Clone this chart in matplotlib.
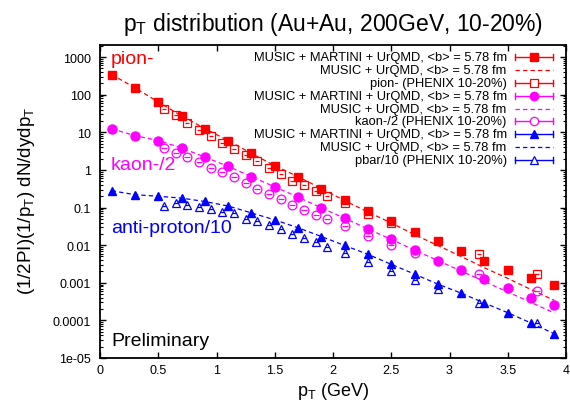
import matplotlib
matplotlib.use('Agg')
import matplotlib.pyplot as plt
from matplotlib.ticker import FixedLocator, FixedFormatter, LogLocator, NullFormatter

plt.rcParams['font.family'] = ['Liberation Sans', 'DejaVu Sans']
plt.rcParams['mathtext.fontset'] = 'custom'
plt.rcParams['mathtext.rm'] = 'Liberation Sans'
plt.rcParams['mathtext.it'] = 'Liberation Sans:italic'
plt.rcParams['mathtext.bf'] = 'Liberation Sans:bold'

# ---------------- data ----------------
pt_model = [0.1, 0.3, 0.5, 0.7, 0.9, 1.1, 1.3, 1.5, 1.7, 1.9,
            2.1, 2.3, 2.5, 2.7, 2.9, 3.1, 3.3, 3.5, 3.7, 3.9]

pion_martini = [344, 153, 64, 27.5, 12.6, 6.05, 2.75, 1.30, 0.66, 0.32,
                0.158, 0.0817, 0.0443, 0.0222, 0.0128, 0.0071, 0.0039, 0.00224, 0.00135, 0.00088]
pion_music = [344, 153, 64, 27.5, 12.6, 6.05, 2.75, 1.30, 0.66, 0.32,
              0.153, 0.076, 0.039, 0.019, 0.0098, 0.0050, 0.0025, 0.00131, 0.00066, 0.00034]

kaon_martini = [12.4, 8.2, 6.05, 3.85, 2.2, 1.25, 0.66, 0.355, 0.19, 0.098,
                0.052, 0.027, 0.0144, 0.0075, 0.0038, 0.00224, 0.00126, 0.00072, 0.00039, 0.00026]
kaon_music = [12.4, 8.2, 6.05, 3.85, 2.2, 1.25, 0.66, 0.355, 0.19, 0.098,
              0.052, 0.027, 0.0142, 0.0074, 0.0039, 0.00205, 0.00108, 0.00057, 0.00030, 0.000157]

pbar_martini = [0.28, 0.22, 0.20, 0.178, 0.145, 0.11, 0.072, 0.047, 0.029, 0.017,
                0.0098, 0.0057, 0.0031, 0.0017, 0.00092, 0.00053, 0.00029, 0.00016, 8.5e-5, 4.4e-5]
pbar_music = [0.28, 0.22, 0.20, 0.178, 0.145, 0.11, 0.072, 0.047, 0.029, 0.017,
              0.0098, 0.0057, 0.0031, 0.0017, 0.00092, 0.00053, 0.00029, 0.00016, 8.5e-5, 4.4e-5]

pt_phenix_pion = [0.55, 0.65, 0.75, 0.85, 0.95, 1.05, 1.15, 1.25, 1.35, 1.45, 1.55, 1.65,
                  1.75, 1.85, 1.95, 2.1, 2.3, 2.5, 3.25, 3.75]
pion_phenix = [43, 28.5, 18, 11.8, 8.0, 5.3, 3.5, 2.45, 1.7, 1.15, 0.77, 0.52,
               0.39, 0.27, 0.20, 0.133, 0.068, 0.039, 0.0058, 0.00173]

pt_phenix_kaon = [0.55, 0.65, 0.75, 0.85, 0.95, 1.05, 1.15, 1.25, 1.35, 1.45, 1.55, 1.65,
                  1.75, 1.85, 1.95, 2.1, 2.3, 2.5, 2.7, 3.25, 3.75]
kaon_phenix = [3.9, 2.9, 2.2, 1.65, 1.1, 0.86, 0.64, 0.44, 0.32, 0.225, 0.165, 0.117,
               0.087, 0.065, 0.049, 0.032, 0.018, 0.0103, 0.0062, 0.00173, 0.00061]

pt_phenix_pbar = [0.55, 0.65, 0.75, 0.85, 0.95, 1.05, 1.15, 1.25, 1.35, 1.45, 1.55, 1.65,
                  1.75, 1.85, 1.95, 2.1, 2.3, 2.5, 2.7, 2.9, 3.25, 3.75]
pbar_phenix = [0.113, 0.133, 0.12, 0.102, 0.093, 0.078, 0.072, 0.050, 0.045, 0.035, 0.027, 0.020,
               0.0155, 0.012, 0.0089, 0.0062, 0.0035, 0.0021, 0.0012, 0.00069, 0.00029, 8.3e-5]

x_ticks = [0, 0.5, 1, 1.5, 2, 2.5, 3, 3.5, 4]
x_tick_labels = ['0', '0.5', '1', '1.5', '2', '2.5', '3', '3.5', '4']
y_ticks = [1e-5, 1e-4, 1e-3, 1e-2, 1e-1, 1, 10, 100, 1000]
y_tick_labels = ['1e-05', '0.0001', '0.001', '0.01', '0.1', '1', '10', '100', '1000']

legend_labels = [
    'MUSIC + MARTINI + UrQMD, <b> = 5.78 fm',
    'MUSIC + UrQMD, <b> = 5.78 fm',
    'pion- (PHENIX 10-20%)',
    'MUSIC + MARTINI + UrQMD, <b> = 5.78 fm',
    'MUSIC + UrQMD, <b> = 5.78 fm',
    'kaon-/2 (PHENIX 10-20%)',
    'MUSIC + MARTINI + UrQMD, <b> = 5.78 fm',
    'MUSIC + UrQMD, <b> = 5.78 fm',
    'pbar/10 (PHENIX 10-20%)',
]
species_labels = ['pion-', 'kaon-/2', 'anti-proton/10']

title = r'$\mathregular{p_T}$ distribution (Au+Au, 200GeV, 10-20%)'
xlabel = r'$\mathregular{p_T}$ (GeV)'
ylabel = r'(1/2PI)(1/$\mathregular{p_T}$) dN/dydp$\mathregular{_T}$'

RED, MAG, BLUE = '#ff0000', '#ff00ff', '#0000ff'

# ---------------- figure ----------------
W, H = 570, 402
fig = plt.figure(figsize=(W / 100, H / 100), dpi=100)
L, R, T, B = 100, 566, 46, 359
ax = fig.add_axes([L / W, 1 - B / H, (R - L) / W, (B - T) / H])

ax.set_yscale('log')
ax.set_xlim(0, 4)
ax.set_ylim(1e-5, 2100)

series = [
    (pt_model, pion_martini, pion_music, pt_phenix_pion, pion_phenix, RED, 's', 6.0, 's', 6.0),
    (pt_model, kaon_martini, kaon_music, pt_phenix_kaon, kaon_phenix, MAG, 'o', 6.5, 'o', 6.3),
    (pt_model, pbar_martini, pbar_music, pt_phenix_pbar, pbar_phenix, BLUE, '^', 5.5, '^', 6.0),
]
for xm, ym, yd, xp, yp, c, mf, msf, mo, mso in series:
    ax.plot(xm, ym, linestyle='none', marker=mf, ms=msf, color=c, mec=c, zorder=3)
    ax.plot(xm, yd, linestyle=(0, (3.5, 2.5)), lw=0.9, color=c, zorder=2)
    ax.plot(xp, yp, linestyle='none', marker=mo, ms=mso, mfc='none', mec=c, mew=0.9, zorder=4)
    ax.plot(xp, yp, linestyle='none', marker='_', ms=mso * 0.6, mec=c, mew=0.9, zorder=4)

# ticks
ax.xaxis.set_major_locator(FixedLocator(x_ticks))
ax.xaxis.set_major_formatter(FixedFormatter(x_tick_labels))
ax.yaxis.set_major_locator(FixedLocator(y_ticks))
ax.yaxis.set_major_formatter(FixedFormatter(y_tick_labels))
ax.yaxis.set_minor_locator(LogLocator(base=10, subs=range(2, 10), numticks=20))
ax.yaxis.set_minor_formatter(NullFormatter())
ax.tick_params(axis='both', which='both', direction='in', top=True, right=True,
               labelsize=9, colors='black')
ax.tick_params(axis='both', which='major', length=4.5, width=1.0)
ax.tick_params(axis='y', which='minor', length=2.5, width=0.8)
ax.tick_params(axis='y', which='major', pad=6.5)
ax.tick_params(axis='x', which='major', pad=4.5)
for s in ax.spines.values():
    s.set_linewidth(1.3)

# labels
ax.set_title(title, fontsize=16.5, pad=11)
ax.set_xlabel(xlabel, fontsize=13)
ax.xaxis.set_label_coords((333.5 - L) / (R - L), (B - 396) / (B - T))
ax.xaxis.label.set_va('baseline')
ax.set_ylabel(ylabel, fontsize=13.5)
ax.yaxis.set_label_coords((27 - L) / (R - L), (B - 201) / (B - T))
ax.yaxis.label.set_va('center')

def fx(px):
    return (px - L) / (R - L)

def fy(py):
    return (B - py) / (B - T)

sp_pos = [(111, 60, RED), (111, 165, MAG), (111, 229, BLUE)]
for lab, (px, py, c) in zip(species_labels, sp_pos):
    ax.text(fx(px), fy(py), lab, color=c, fontsize=14, transform=ax.transAxes,
            ha='left', va='center')
ax.text(fx(111), fy(342), 'Preliminary', color='black', fontsize=14,
        transform=ax.transAxes, ha='left', va='center')

# manual gnuplot-style key
key_styles = [
    ('err', RED, 's', 'full'), ('dash', RED, None, None), ('err', RED, 's', 'none'),
    ('err', MAG, 'o', 'full'), ('dash', MAG, None, None), ('err', MAG, 'o', 'none'),
    ('err', BLUE, '^', 'full'), ('dash', BLUE, None, None), ('err', BLUE, '^', 'none'),
]
x0, x1, xm = fx(515), fx(553), fx(534)
cap = 3.0 / (B - T)
for i, (lab, (kind, c, mk, fill)) in enumerate(zip(legend_labels, key_styles)):
    y = fy(58.3 + 12.8 * i)
    ax.text(fx(506.7), y, lab, fontsize=9.3, ha='right', va='center',
            transform=ax.transAxes)
    if kind == 'dash':
        ax.plot([x0, x1], [y, y], color=c, lw=0.9, linestyle=(0, (3.5, 2.5)),
                transform=ax.transAxes, clip_on=False)
    else:
        ax.plot([x0, x1], [y, y], color=c, lw=1.0, transform=ax.transAxes, clip_on=False)
        ax.plot([x0, x0], [y - cap, y + cap], color=c, lw=1.0, transform=ax.transAxes, clip_on=False)
        ax.plot([x1, x1], [y - cap, y + cap], color=c, lw=1.0, transform=ax.transAxes, clip_on=False)
        if fill == 'full':
            ax.plot([xm], [y], marker=mk, ms=6, color=c, transform=ax.transAxes, clip_on=False)
        else:
            ax.plot([xm], [y], marker=mk, ms=6, mfc='white', mec=c, mew=0.9,
                    transform=ax.transAxes, clip_on=False)

fig.savefig('out.png', dpi=100)
